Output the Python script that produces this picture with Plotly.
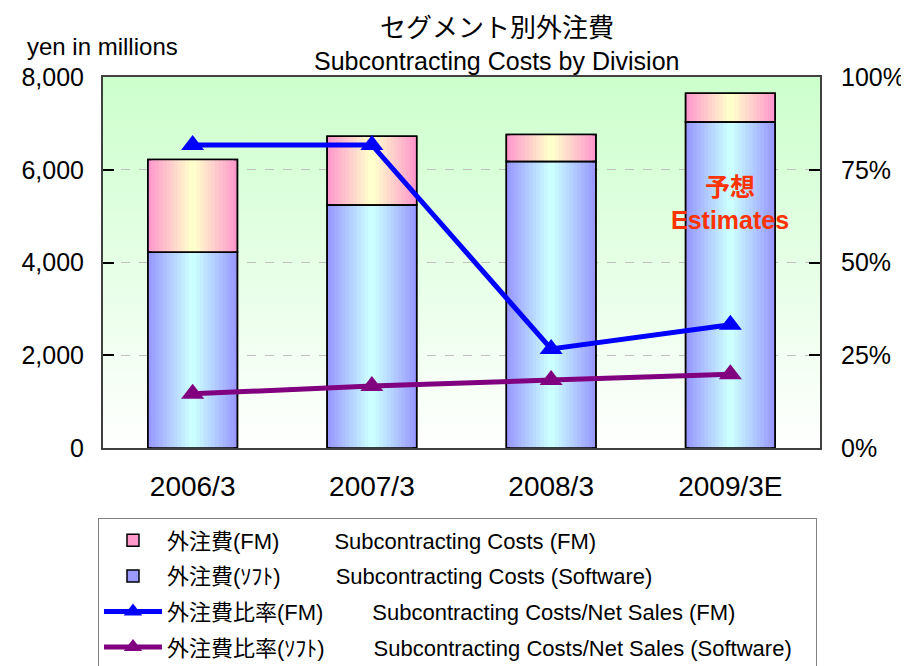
import base64
import plotly.graph_objects as go

# ---- data ----
years = ["2006/3", "2007/3", "2008/3", "2009/3E"]
software_cost = [4220, 5240, 6180, 7030]      # yen in millions
fm_cost = [2000, 1480, 580, 620]              # stacked on top of software
fm_ratio = [0.817, 0.817, 0.267, 0.332]       # right axis
software_ratio = [0.146, 0.167, 0.183, 0.199]

FONT = "Liberation Sans, Noto Sans CJK JP, sans-serif"
JP_FONT = "Noto Sans CJK JP, Liberation Sans, sans-serif"
NBSP = "\u00a0"

FM_EDGE, FM_MID = (255, 153, 204), (255, 255, 204)
SW_EDGE, SW_MID = (153, 153, 255), (204, 255, 255)
BAR_W = 0.5
STEPS = 12


def _mix(a, b, t):
    return "rgb({},{},{})".format(*[round(x + (y - x) * t) for x, y in zip(a, b)])


fm_base = list(software_cost)

fig = go.Figure()

# bars with a left-right gradient: nested narrower bars drawn on top of each other
for k in range(STEPS):
    t = k / (STEPS - 1)
    w = BAR_W * (STEPS - k) / STEPS
    first = k == 0
    fig.add_trace(go.Bar(
        x=years, y=software_cost, base=[0] * len(years), width=w,
        marker=dict(color=_mix(SW_EDGE, SW_MID, t),
                    line=dict(color="black", width=1.5 if first else 0)),
        name=f"外注費(ｿﾌﾄ){NBSP * 9}Subcontracting Costs (Software)",
        showlegend=first, legendrank=2, legendgroup="sw",
        hoverinfo="skip",
    ))
for k in range(STEPS):
    t = k / (STEPS - 1)
    w = BAR_W * (STEPS - k) / STEPS
    first = k == 0
    fig.add_trace(go.Bar(
        x=years, y=fm_cost, base=fm_base, width=w,
        marker=dict(color=_mix(FM_EDGE, FM_MID, t),
                    line=dict(color="black", width=1.5 if first else 0)),
        name=f"外注費(FM){NBSP * 9}Subcontracting Costs (FM)",
        showlegend=first, legendrank=1, legendgroup="fm",
        hoverinfo="skip",
    ))

# black outlines on top of the gradient stacks
for vals, base in ((software_cost, [0] * len(years)), (fm_cost, fm_base)):
    fig.add_trace(go.Bar(
        x=years, y=vals, base=base, width=BAR_W,
        marker=dict(color="rgba(0,0,0,0)", line=dict(color="black", width=1.5)),
        showlegend=False, hoverinfo="skip",
    ))

fig.add_trace(go.Scatter(
    x=years, y=fm_ratio, yaxis="y2", mode="lines+markers",
    name=f"外注費比率(FM){NBSP * 8}Subcontracting Costs/Net Sales (FM)",
    line=dict(color="#0000ff", width=5),
    marker=dict(symbol="triangle-up", size=20, color="#0000ff"),
    legendrank=3, legendgroup="fmr", hoverinfo="skip",
))
fig.add_trace(go.Scatter(
    x=years, y=software_ratio, yaxis="y2", mode="lines+markers",
    name=f"外注費比率(ｿﾌﾄ){NBSP * 8}Subcontracting Costs/Net Sales (Software){NBSP * 3}",
    line=dict(color="#800080", width=5),
    marker=dict(symbol="triangle-up", size=20, color="#800080"),
    legendrank=4, legendgroup="swr", hoverinfo="skip",
))

# plot-area background: vertical green-to-white gradient
svg = ('<svg xmlns="http://www.w3.org/2000/svg" width="100" height="100" '
       'preserveAspectRatio="none"><defs><linearGradient id="g" x1="0" y1="0" '
       'x2="0" y2="1"><stop offset="0" stop-color="#ccffcc"/>'
       '<stop offset="1" stop-color="#ffffff"/></linearGradient></defs>'
       '<rect width="100" height="100" fill="url(#g)"/></svg>')
bg_src = "data:image/svg+xml;base64," + base64.b64encode(svg.encode()).decode()

# the page body adds an 8px offset, so the margins are shifted to compensate
fig.update_layout(
    width=909, height=666,
    margin=dict(l=95, r=97, t=69, b=226, autoexpand=False),
    paper_bgcolor="white",
    plot_bgcolor="rgba(0,0,0,0)",
    barmode="overlay",
    font=dict(family=FONT, color="black", size=20),
    images=[dict(source=bg_src, xref="paper", yref="paper", x=0, y=1,
                 sizex=1, sizey=1, sizing="stretch", layer="below")],
    xaxis=dict(
        range=[-0.5, 3.5], showgrid=False, ticks="", automargin=False,
        showline=True, linecolor="#404040", linewidth=2, mirror=True,
        tickfont=dict(size=28, family=FONT), ticklabelstandoff=12,
    ),
    yaxis=dict(
        range=[0, 8000], dtick=2000, tickformat=",", automargin=False,
        showline=True, linecolor="#404040", linewidth=2,
        ticks="inside", ticklen=11, tickcolor="black", tickwidth=1.5,
        showgrid=True, gridcolor="#c0c0c0", griddash="dash", gridwidth=1,
        zeroline=False,
        tickfont=dict(size=25, family=FONT), ticklabelstandoff=12,
    ),
    yaxis2=dict(
        range=[0, 1], dtick=0.25, tickformat=".0%", overlaying="y", side="right",
        showline=True, linecolor="#404040", linewidth=2, automargin=False,
        ticks="inside", ticklen=11, tickcolor="black", tickwidth=1.5,
        showgrid=False, zeroline=False,
        tickfont=dict(size=25, family=FONT), ticklabelstandoff=14,
    ),
    legend=dict(
        x=-0.007, y=-0.19, xanchor="left", yanchor="top",
        bgcolor="white", bordercolor="#808080", borderwidth=1,
        font=dict(size=22, family=FONT),
        traceorder="grouped", tracegroupgap=4, itemwidth=58,
    ),
    showlegend=True,
    annotations=[
        dict(text="セグメント別外注費", xref="paper", yref="paper",
             x=0.5495, y=1.14, yanchor="middle", showarrow=False,
             font=dict(size=26, family=JP_FONT)),
        dict(text="Subcontracting Costs by Division", xref="paper", yref="paper",
             x=0.5495, y=1.043, yanchor="middle", showarrow=False,
             font=dict(size=25)),
        dict(text="yen in millions", xref="paper", yref="paper",
             x=-0.109, y=1.081, xanchor="left", yanchor="middle",
             showarrow=False, font=dict(size=24)),
        dict(text="<b>予想</b><br><b>Estimates</b>", x=years[3], y=5280,
             showarrow=False, font=dict(size=25, color="#ff3300")),
    ],
)

fig.write_html("out.html")
